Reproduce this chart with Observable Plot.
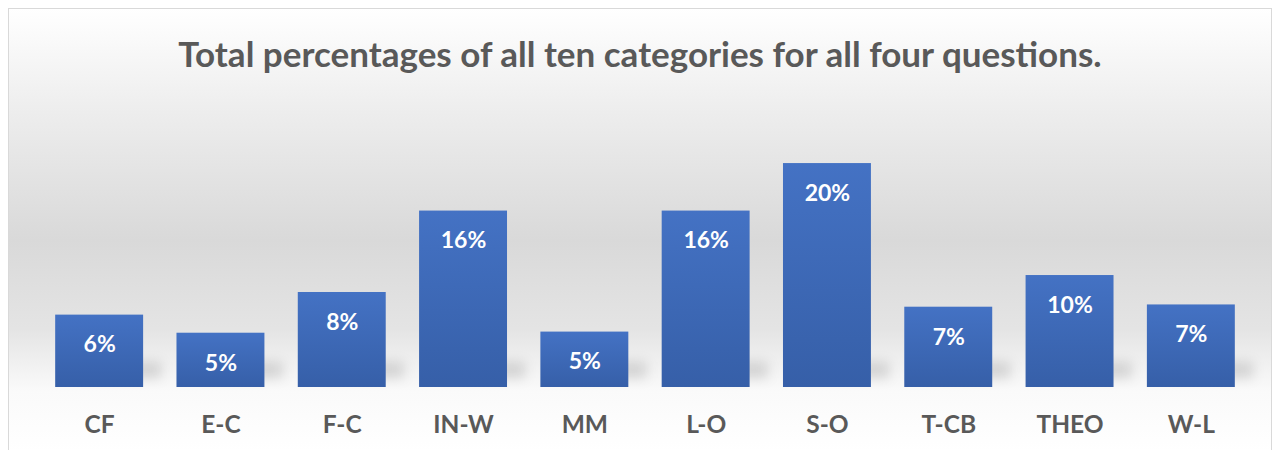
<!DOCTYPE html>
<html>
<head>
<meta charset="utf-8">
<script src="https://cdn.jsdelivr.net/npm/d3@7"></script>
<script src="https://cdn.jsdelivr.net/npm/@observablehq/plot@0.6"></script>
<style>
  html, body { margin: 0; padding: 0; background: #fff; width: 1278px; height: 450px; overflow: hidden; }
  #frame {
    position: absolute; left: 8px; top: 8px; width: 1264px; height: 446px;
    border: 1px solid #d9d9d9; box-sizing: border-box;
    background: linear-gradient(to bottom, #ffffff 0%, #eeeeee 22%, #d9d9d9 52%, #e4e4e4 72%, #fafafa 86%, #ffffff 100%);
  }
  #title {
    position: absolute; left: 0; top: 24px; width: 100%; text-align: center;
    font-family: Lato, "Open Sans", sans-serif; font-weight: bold; font-size: 35px;
    color: #595959; line-height: 40px;
  }
  #chart { position: absolute; left: -9px; top: 83px; width: 1278px; }
  #chart svg { max-width: none !important; }
  .bar-shadow { filter: blur(6px); }
</style>
</head>
<body>
<div id="frame">
  <div id="title">Total percentages of all ten categories for all four questions.</div>
  <div id="chart"></div>
</div>
<script>
const categories = ["CF", "E-C", "F-C", "IN-W", "MM", "L-O", "S-O", "T-CB", "THEO", "W-L"];
const percentages = [6.4, 4.8, 8.4, 15.6, 4.9, 15.6, 19.8, 7.1, 9.9, 7.3];

const data = categories.map((c, i) => ({category: c, value: percentages[i]}));

const gradientDefs = () => {
  const ns = "http://www.w3.org/2000/svg";
  const defs = document.createElementNS(ns, "defs");
  const lg = document.createElementNS(ns, "linearGradient");
  lg.setAttribute("id", "barGrad");
  lg.setAttribute("x1", "0"); lg.setAttribute("y1", "0");
  lg.setAttribute("x2", "0"); lg.setAttribute("y2", "1");
  [["0%", "#4472c4"], ["100%", "#365fa8"]].forEach(([o, c]) => {
    const s = document.createElementNS(ns, "stop");
    s.setAttribute("offset", o); s.setAttribute("stop-color", c);
    lg.appendChild(s);
  });
  defs.appendChild(lg);
  return defs;
};

const H = 367;
const baseline = 295;
const pxPerUnit = 11.31;

const plot = Plot.plot({
  width: 1278,
  height: H,
  marginLeft: 38.5,
  marginRight: 26.5,
  marginTop: baseline - 20 * pxPerUnit,
  marginBottom: H - baseline,
  style: { background: "transparent", color: "#595959", fontFamily: "Lato, 'Open Sans', sans-serif", maxWidth: "none" },
  x: { domain: categories, paddingInner: 0.275, paddingOuter: 0.1375, align: 0.5, round: false, label: null },
  y: { domain: [0, 20], axis: null },
  marks: [
    gradientDefs,
    // soft shadow near the foot of each bar
    Plot.barY(data, {
      x: "category", y1: 0.8, y2: d => Math.min(d.value, 2.2),
      dx: 14, insetLeft: 10, insetRight: -4,
      fill: "#000", fillOpacity: 0.13, className: "bar-shadow"
    }),
    Plot.barY(data, { x: "category", y: "value", fill: "url(#barGrad)" }),
    Plot.text(data, {
      x: "category", y: "value", text: d => Math.round(d.value) + "%",
      dy: 30, fill: "white", fontSize: 23, fontWeight: "bold", lineAnchor: "middle"
    }),
    Plot.axisX({ tickSize: 0, tickPadding: 28, fontSize: 24.5, fontWeight: "bold", label: null })
  ]
});
document.getElementById("chart").appendChild(plot);
</script>
</body>
</html>
